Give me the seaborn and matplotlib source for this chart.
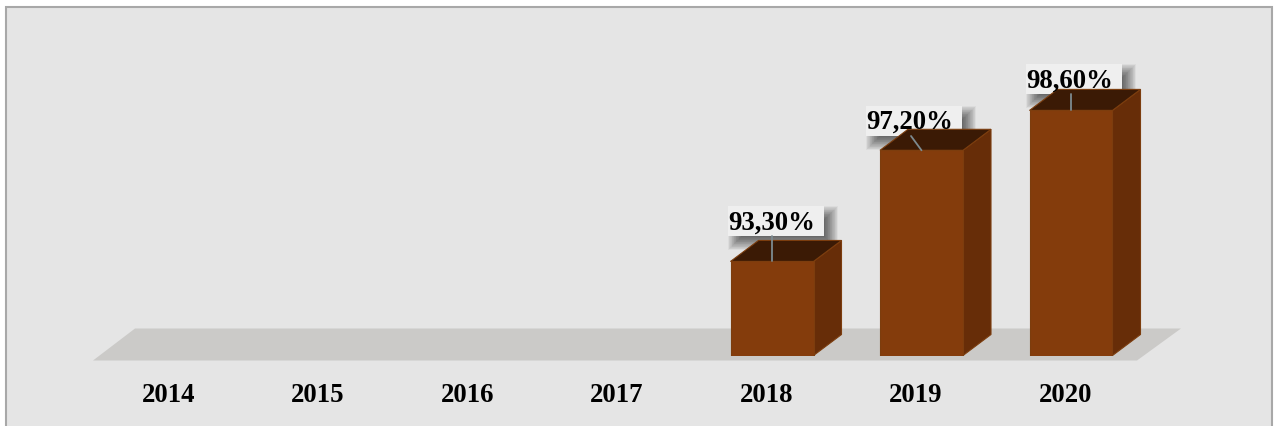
import numpy as np
import pandas as pd
import matplotlib
matplotlib.use("Agg")
import matplotlib.pyplot as plt
from matplotlib.patches import Polygon, Rectangle
from matplotlib.transforms import ScaledTranslation
import seaborn as sns

years = ["2014", "2015", "2016", "2017", "2018", "2019", "2020"]
coverage = [np.nan, np.nan, np.nan, np.nan, 93.3, 97.2, 98.6]

W, H = 1275, 427
FRONT, SIDE, TOP, EDGE = "#843C0C", "#672D08", "#3B1A05", "#7C3D0E"
DEPTH_X, DEPTH_Y = 28, 21
BASE_PX = 356.5
ORIGIN_PX = 174.0

sns.set_theme(style="white", font="Liberation Serif")
plt.rcParams["font.family"] = ["Liberation Serif", "DejaVu Serif"]

fig = plt.figure(figsize=(W / 100, H / 100), dpi=100, facecolor="white")

# Pixel-addressed backdrop: panel, frame and the shaded floor
bg = fig.add_axes([0, 0, 1, 1], zorder=0)
bg.set_xlim(0, W)
bg.set_ylim(H, 0)
bg.axis("off")
bg.add_patch(Rectangle((6, 8), W - 9, H, facecolor="#E5E5E5", edgecolor="#A8A8A8", linewidth=1.5))
bg.add_patch(Polygon([(93, 361.5), (1137, 361.5), (1181, 329.5), (135, 329.5)], facecolor="#CBCAC8", edgecolor="none"))

# Value axes: 90 % sits on the bar baseline, 28.5 px per percentage point
ax = fig.add_axes([0, (H - BASE_PX) / H, 1, BASE_PX / H], zorder=1)
df = pd.DataFrame({"year": years, "coverage": coverage})
sns.barplot(data=df, x="year", y="coverage", order=years, width=83 / 149.5,
            color=FRONT, saturation=1, edgecolor=EDGE, linewidth=0.8, ax=ax, zorder=5)
ax.set_xlim(-ORIGIN_PX / 149.5, (W - ORIGIN_PX) / 149.5)
ax.set_ylim(90, 90 + BASE_PX / 28.5)
ax.patch.set_alpha(0)
ax.set_xlabel("")
ax.set_ylabel("")
ax.set_yticks([])
sns.despine(ax=ax, left=True, bottom=True)
ax.tick_params(axis="x", length=0, pad=18.8)
shift = ScaledTranslation(-5.5 / 100, 0, fig.dpi_scale_trans)
for tick in ax.get_xticklabels():
    tick.set_fontsize(19.3)
    tick.set_fontweight("bold")
    tick.set_color("black")
    tick.set_transform(tick.get_transform() + shift)

fig.canvas.draw()


def to_px(x, y):
    dx, dy = ax.transData.transform((x, y))
    return dx, H - dy


px = bg.transData
label_spots = {"93.3": (772, 229.5, 772, 237), "97.2": (910, 128.5, 911, 137), "98.6": (1070, 87.5, 1071, 95)}

for value in [v for v in coverage if not np.isnan(v)]:
    i = coverage.index(value)
    bar = next(p for p in ax.patches
               if p.get_height() > 0 and abs(p.get_x() + p.get_width() / 2 - i) < 0.01)
    x0, top = to_px(bar.get_x(), value)
    x1, base = to_px(bar.get_x() + bar.get_width(), 90)
    tx, baseline, lx, ly = label_spots[str(value)]

    # Soft drop shadow, then the label plate behind the bar
    bx0, by0, bw, bh = tx - 44, ly - 30, 96, 30
    for k in range(22):
        grow = 7 - k * 0.7
        ax.add_patch(Rectangle((bx0 + 7 - grow, by0 + 7 - grow), bw + 2 * grow, bh + 2 * grow,
                               transform=px, clip_on=False, facecolor="black", alpha=0.036,
                               edgecolor="none", zorder=2))
    ax.add_patch(Rectangle((bx0, by0), bw, bh, transform=px, clip_on=False,
                           facecolor="#EFEFEF", edgecolor="none", zorder=3))

    # Extruded faces of the block
    ax.add_patch(Polygon([(x1, top), (x1 + DEPTH_X, top - DEPTH_Y), (x1 + DEPTH_X, base - DEPTH_Y), (x1, base)],
                         transform=px, clip_on=False, facecolor=SIDE, edgecolor=EDGE, linewidth=0.8, zorder=4))
    ax.add_patch(Polygon([(x0, top), (x0 + DEPTH_X, top - DEPTH_Y), (x1 + DEPTH_X, top - DEPTH_Y), (x1, top)],
                         transform=px, clip_on=False, facecolor=TOP, edgecolor=EDGE, linewidth=0.8, zorder=4))

    # Leader line from the plate to the middle of the front top edge
    ax.plot([lx, (x0 + x1) / 2], [ly, top], transform=px, clip_on=False,
            color="#7C8A90", linewidth=1.3, zorder=6)
    ax.text(tx, baseline, f"{value:.2f}%".replace(".", ","), transform=px, ha="center", va="baseline",
            fontsize=19.3, fontweight="bold", color="black", clip_on=False, zorder=7)

fig.savefig("out.png", dpi=100)
